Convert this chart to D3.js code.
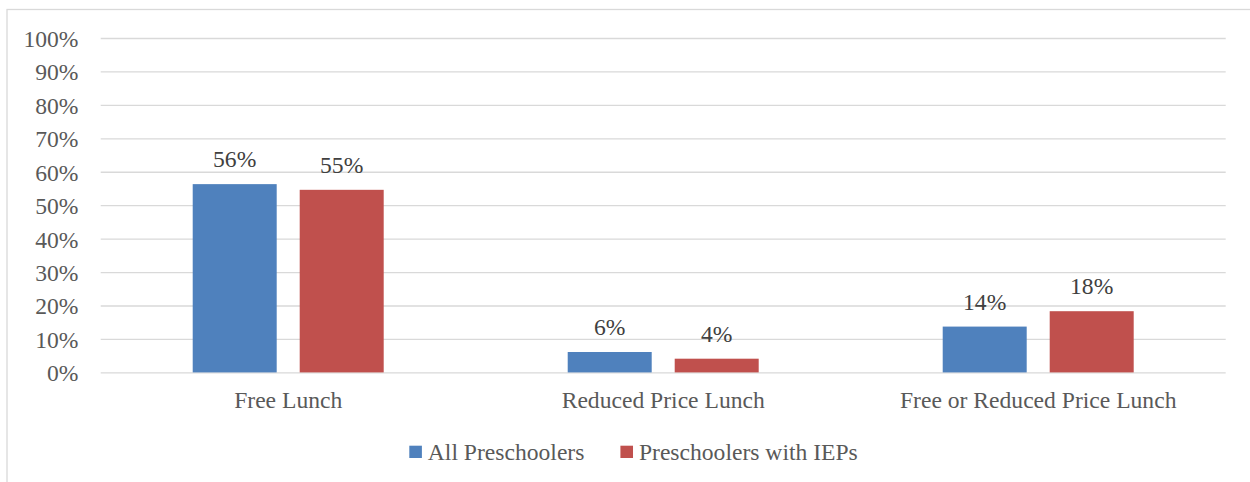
<!DOCTYPE html>
<html>
<head>
<meta charset="utf-8">
<script src="https://cdn.jsdelivr.net/npm/d3@7/dist/d3.min.js"></script>
<style>
  html, body { margin: 0; padding: 0; background: #fff; }
  svg { display: block; }
  text { font-family: "Liberation Serif", "Times New Roman", serif; }
</style>
</head>
<body>
<svg id="chart" width="1250" height="482"></svg>
<script>
const categories = ["Free Lunch", "Reduced Price Lunch", "Free or Reduced Price Lunch"];
const seriesNames = ["All Preschoolers", "Preschoolers with IEPs"];
const allPreschoolers = [0.563, 0.061, 0.137];
const preschoolersIEPs = [0.546, 0.041, 0.183];
const valueLabels = [["56%", "6%", "14%"], ["55%", "4%", "18%"]];
const tickValues = [0, 0.1, 0.2, 0.3, 0.4, 0.5, 0.6, 0.7, 0.8, 0.9, 1.0];
const colors = ["#4F81BD", "#C0504D"];

const seriesValues = [allPreschoolers, preschoolersIEPs];

const svg = d3.select("#chart");
const fontSize = 23.6;

// outer border
svg.append("rect")
  .attr("x", 7).attr("y", 9.5)
  .attr("width", 1400).attr("height", 600)
  .attr("fill", "none").attr("stroke", "#D9D9D9").attr("stroke-width", 1.3);

const plotLeft = 100.7, plotRight = 1225.7, plotTop = 38, plotBottom = 372.4;

const y = d3.scaleLinear().domain([0, 1]).range([plotBottom, plotTop]);
const x0 = d3.scaleBand().domain(categories).range([plotLeft, plotRight])
  .paddingInner(0.4907).paddingOuter(0.4907 / 2);
const x1 = d3.scaleBand().domain(seriesNames).range([0, x0.bandwidth()])
  .paddingInner(0.215).paddingOuter(0);

// gridlines
const grid = d3.axisLeft(y).tickValues(tickValues).tickSize(-(plotRight - plotLeft)).tickFormat("");
const gg = svg.append("g").attr("transform", `translate(${plotLeft},0)`).call(grid);
gg.select(".domain").remove();
gg.selectAll(".tick line").attr("stroke", "#D9D9D9").attr("stroke-width", 1.3);

// y tick labels
const yAxis = d3.axisLeft(y).tickValues(tickValues).tickSize(0).tickPadding(0)
  .tickFormat(d3.format(".0%"));
const ya = svg.append("g").attr("transform", `translate(78.5,0)`).call(yAxis);
ya.select(".domain").remove();
ya.selectAll(".tick text")
  .attr("font-family", "Liberation Serif")
  .attr("font-size", fontSize)
  .attr("fill", "#595959")
  .attr("dy", null)
  .attr("y", 8.4)
  .attr("dominant-baseline", "alphabetic");

// bars
const groups = svg.append("g").selectAll("g")
  .data(categories)
  .join("g")
  .attr("transform", d => `translate(${x0(d)},0)`);

groups.selectAll("rect")
  .data((d, i) => seriesNames.map((s, j) => ({ s, j, v: seriesValues[j][i], label: valueLabels[j][i] })))
  .join("rect")
  .attr("x", d => x1(d.s))
  .attr("width", x1.bandwidth())
  .attr("y", d => y(d.v))
  .attr("height", d => y(0) - y(d.v))
  .attr("fill", d => colors[d.j]);

groups.selectAll("text.val")
  .data((d, i) => seriesNames.map((s, j) => ({ s, j, v: seriesValues[j][i], label: valueLabels[j][i] })))
  .join("text")
  .attr("class", "val")
  .attr("x", d => x1(d.s) + x1.bandwidth() / 2)
  .attr("y", d => y(d.v) - 17)
  .attr("text-anchor", "middle")
  .attr("font-size", fontSize)
  .attr("fill", "#404040")
  .text(d => d.label);

// category axis labels
const xAxis = d3.axisBottom(x0).tickSize(0).tickPadding(0);
const xa = svg.append("g").attr("transform", `translate(0,${plotBottom})`).call(xAxis);
xa.select(".domain").remove();
xa.selectAll(".tick text")
  .attr("font-family", "Liberation Serif")
  .attr("font-size", fontSize)
  .attr("fill", "#595959")
  .attr("dy", null)
  .attr("y", 36);

// legend
const legend = svg.append("g").attr("transform", "translate(409.3,0)");
let lx = 0;
seriesNames.forEach((name, j) => {
  const g = legend.append("g").attr("transform", `translate(${lx},0)`);
  g.append("rect").attr("x", 0).attr("y", 445.7).attr("width", 12.6).attr("height", 12.3)
    .attr("fill", colors[j]);
  const t = g.append("text").attr("x", 18.5).attr("y", 460)
    .attr("font-size", fontSize).attr("fill", "#595959").text(name);
  const w = t.node().getComputedTextLength();
  lx += 18.5 + w + 36;
});
</script>
</body>
</html>
